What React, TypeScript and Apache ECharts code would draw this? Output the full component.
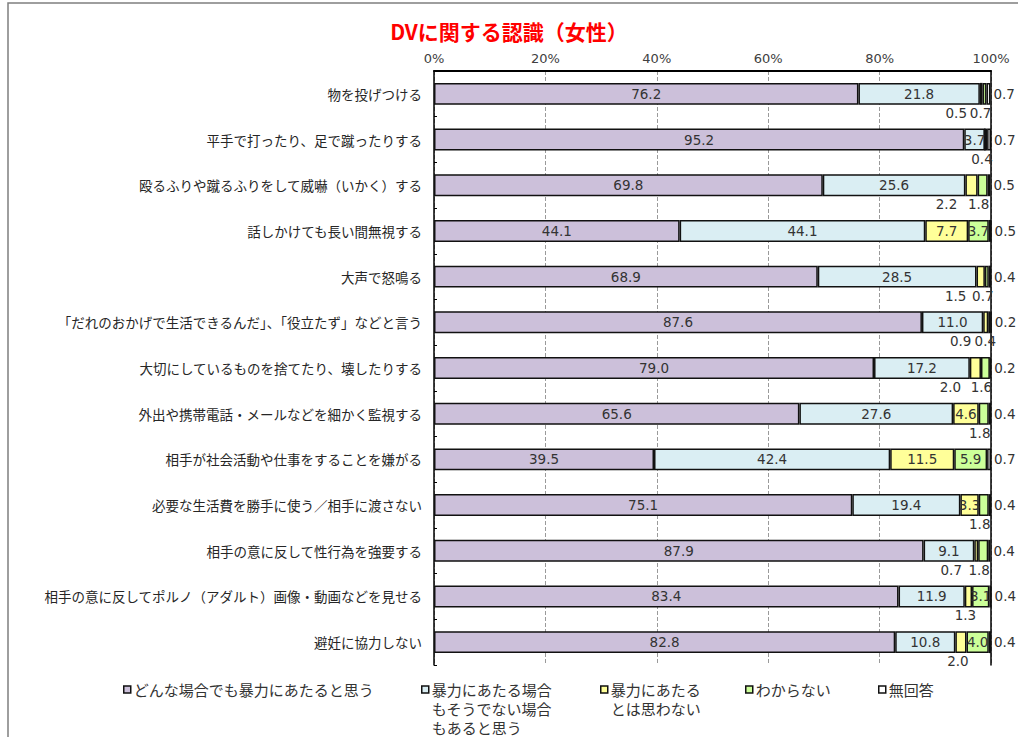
import React, { useEffect, useRef } from "react";
import * as echarts from "echarts";

const categories = [
  "物を投げつける",
  "平手で打ったり、足で蹴ったりする",
  "殴るふりや蹴るふりをして威嚇（いかく）する",
  "話しかけても長い間無視する",
  "大声で怒鳴る",
  "「だれのおかげで生活できるんだ」、「役立たず」などと言う",
  "大切にしているものを捨てたり、壊したりする",
  "外出や携帯電話・メールなどを細かく監視する",
  "相手が社会活動や仕事をすることを嫌がる",
  "必要な生活費を勝手に使う／相手に渡さない",
  "相手の意に反して性行為を強要する",
  "相手の意に反してポルノ（アダルト）画像・動画などを見せる",
  "避妊に協力しない",
];

const seriesNames = [
  "どんな場合でも暴力にあたると思う",
  "暴力にあたる場合もそうでない場合もあると思う",
  "暴力にあたるとは思わない",
  "わからない",
  "無回答",
];

const legendLines = [
  ["どんな場合でも暴力にあたると思う"],
  ["暴力にあたる場合", "もそうでない場合", "もあると思う"],
  ["暴力にあたる", "とは思わない"],
  ["わからない"],
  ["無回答"],
];

const always = [76.2, 95.2, 69.8, 44.1, 68.9, 87.6, 79.0, 65.6, 39.5, 75.1, 87.9, 83.4, 82.8];
const depends = [21.8, 3.7, 25.6, 44.1, 28.5, 11.0, 17.2, 27.6, 42.4, 19.4, 9.1, 11.9, 10.8];
const notViolence = [0.5, 0.0, 2.2, 7.7, 1.5, 0.9, 2.0, 4.6, 11.5, 3.3, 0.7, 1.3, 2.0];
const unknown = [0.7, 0.4, 1.8, 3.7, 0.7, 0.4, 1.6, 1.8, 5.9, 1.8, 1.8, 3.1, 4.0];
const noAnswer = [0.7, 0.7, 0.5, 0.5, 0.4, 0.2, 0.2, 0.4, 0.7, 0.4, 0.4, 0.4, 0.4];

const xTicks = [0, 20, 40, 60, 80, 100];

const colors = ["#CCC0DA", "#DAEEF3", "#FFFF99", "#CCFF99", "#FFFFFF"];
const FONT = "'Noto Sans CJK JP', 'Noto Sans', sans-serif";
const NUMFONT = "'DejaVu Sans', 'Noto Sans', sans-serif";
const TEXT = "#333333";

function fmt(v: number) {
  return v.toFixed(1);
}

function buildSmallSeriesData(values: number[], other: number[], isYellow: boolean) {
  return values.map((v, i) => {
    if (v === 0) {
      return { value: v, label: { show: false } };
    }
    if (v >= 3) {
      return { value: v, label: { show: true, position: "inside" } };
    }
    const otherSmall = other[i] > 0 && other[i] < 3;
    let dx = -3;
    if (isYellow && otherSmall) dx = -25;
    if (!isYellow) dx = -4;
    return {
      value: v,
      label: { show: true, position: "bottom", distance: 1, offset: [dx, 0] },
    };
  });
}

export default function App() {
  const ref = useRef<HTMLDivElement>(null);

  useEffect(() => {
    if (!ref.current) return;
    const chart = echarts.init(ref.current, undefined, { renderer: "svg" });

    const labelBase = {
      show: true,
      color: TEXT,
      fontSize: 13.5,
      fontFamily: NUMFONT,
      formatter: (p: any) => fmt(p.value),
    };

    const seriesData = [
      always,
      depends,
      buildSmallSeriesData(notViolence, unknown, true),
      buildSmallSeriesData(unknown, notViolence, false),
      noAnswer,
    ];

    const series = seriesNames.map((name, i) => ({
      name,
      type: "bar",
      stack: "total",
      barWidth: "48%",
      yAxisIndex: 0,
      itemStyle: { color: colors[i], borderColor: "#111", borderWidth: 1.5 },
      label:
        i === 4
          ? { ...labelBase, position: "right", distance: 3 }
          : { ...labelBase, position: "inside" },
      emphasis: { disabled: true },
      data: seriesData[i],
    }));

    const legendLeft = [123, 421, 600, 745, 878];
    const lineH = 19;
    const baseTop = 680;

    const legends = seriesNames.map((name, i) => {
      const lines = legendLines[i];
      const pad = lines.length - 1;
      const text = "\n".repeat(pad) + lines.join("\n");
      return {
        data: [{ name, icon: "rect" }],
        left: legendLeft[i],
        top: baseTop - pad * lineH,
        orient: "horizontal",
        itemWidth: 7,
        itemHeight: 7,
        padding: 0,
        selectedMode: false,
        itemStyle: { borderColor: "#111", borderWidth: 1.5 },
        formatter: () => text,
        textStyle: {
          fontSize: 15,
          color: TEXT,
          fontFamily: FONT,
          lineHeight: lineH,
          padding: [0, 0, 0, -2],
        },
      };
    });

    chart.setOption({
      animation: false,
      backgroundColor: "#ffffff",
      title: {
        text: "DVに関する認識（女性）",
        left: "center",
        top: 15,
        textStyle: {
          color: "#FF0000",
          fontSize: 21,
          fontWeight: "bold",
          fontFamily: FONT,
        },
      },
      legend: legends,
      grid: { left: 434, right: 27, top: 71, bottom: 72, containLabel: false },
      xAxis: {
        type: "value",
        position: "top",
        min: xTicks[0],
        max: xTicks[xTicks.length - 1],
        interval: xTicks[1] - xTicks[0],
        axisLine: { show: true, lineStyle: { color: "#000", width: 2 } },
        axisTick: { show: false },
        axisLabel: {
          formatter: "{value}%",
          color: "#404040",
          fontSize: 13,
          fontFamily: NUMFONT,
          margin: 6,
        },
        splitLine: {
          show: true,
          lineStyle: { color: "#9a9a9a", type: "dashed", width: 1 },
        },
      },
      yAxis: [
        {
          type: "category",
          inverse: true,
          data: categories,
          axisLine: { show: true, lineStyle: { color: "#000", width: 1.5 } },
          axisTick: { show: true, inside: true, length: 3, lineStyle: { color: "#000" } },
          axisLabel: {
            color: "#262626",
            fontSize: 13.5,
            fontFamily: FONT,
            margin: 12,
          },
        },
        {
          type: "category",
          inverse: true,
          position: "right",
          data: categories,
          axisLine: { show: true, lineStyle: { color: "#000", width: 1.5 } },
          axisTick: { show: false },
          axisLabel: { show: false },
        },
      ],
      graphic: [
        {
          type: "rect",
          shape: { x: 8, y: 3, width: 1300, height: 1000 },
          style: { fill: "none", stroke: "#7f7f7f", lineWidth: 1.5 },
          silent: true,
          z: -1,
        },
      ],
      series,
    });

    return () => chart.dispose();
  }, []);

  return (
    <div
      ref={ref}
      style={{ position: "absolute", left: 0, top: 0, width: 1018, height: 737 }}
    />
  );
}
